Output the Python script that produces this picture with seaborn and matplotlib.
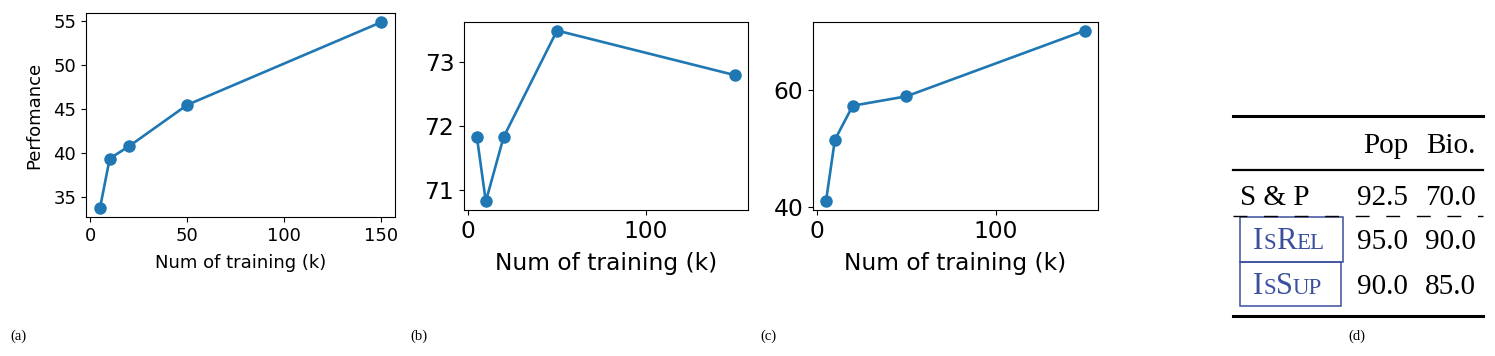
import matplotlib
matplotlib.use("Agg")
import matplotlib.pyplot as plt
import seaborn as sns
import pandas as pd
from matplotlib.lines import Line2D
from matplotlib.patches import Rectangle

# data
num_training = [5, 10, 20, 50, 150]
perf_a = [33.8, 39.4, 40.8, 45.5, 54.9]
perf_b = [71.83, 70.82, 71.83, 73.5, 72.8]
perf_c = [41.0, 51.5, 57.3, 58.9, 70.1]

table_cols = ["Pop", "Bio."]
table_rows = ["S & P", "IsRel", "IsSup"]
pop_scores = [92.5, 95.0, 90.0]
bio_scores = [70.0, 90.0, 85.0]

W, H = 1495, 356
BLUE = "#3a4f9e"


def px(x, y):
    return x / W, 1 - y / H


def add_axes(fig, left, top, right, bottom):
    return fig.add_axes([left / W, 1 - bottom / H, (right - left) / W, (bottom - top) / H])


def plot_panel(ax, values, fs):
    df = pd.DataFrame({"n": num_training, "perf": values})
    sns.lineplot(data=df, x="n", y="perf", marker="o", markersize=9,
                 markeredgewidth=0, linewidth=1.9, color="#1f77b4", ax=ax)
    ax.set_xlabel("Num of training (k)", fontsize=fs, labelpad=6.5)
    ax.set_ylabel("")
    ax.tick_params(labelsize=fs)


def smallcaps(fig, renderer, x, y, parts, big=22, small=16.5):
    # draw "big small big small" pieces one after another on a common baseline
    cur = x
    for i, part in enumerate(parts):
        t = fig.text(*px(cur, y), part, fontsize=big if i % 2 == 0 else small,
                     family="Liberation Serif", color=BLUE, va="baseline", ha="left")
        bb = t.get_window_extent(renderer)
        cur += bb.width


def main():
    fig = plt.figure(figsize=(W / 100, H / 100), dpi=100)

    # (a)
    ax = add_axes(fig, 86, 13, 395, 217)
    plot_panel(ax, perf_a, 13)
    ax.set_ylabel("Perfomance", fontsize=13, labelpad=7)
    ax.set_xticks([0, 50, 100, 150])
    ax.set_yticks([35, 40, 45, 50, 55])

    # (b)
    ax = add_axes(fig, 464, 22, 748, 210)
    plot_panel(ax, perf_b, 16.8)
    ax.set_xticks([0, 100])
    ax.set_yticks([71, 72, 73])

    # (c)
    ax = add_axes(fig, 813, 22, 1098, 210)
    plot_panel(ax, perf_c, 16.8)
    ax.set_xticks([0, 100])
    ax.set_yticks([40, 60])

    # sub captions
    for lab, x in [("(a)", 10), ("(b)", 410), ("(c)", 760), ("(d)", 1357)]:
        fig.text(*px(x, 336), lab, fontsize=10.5, family="Liberation Serif",
                 ha="left" if lab != "(d)" else "center", va="center")

    # (d) table
    fs = 21
    for y, lw in [(116, 2.2), (170, 1.6), (316, 2.2)]:
        fig.add_artist(Line2D([1233 / W, 1483 / W], [1 - y / H] * 2, color="black",
                              linewidth=lw, transform=fig.transFigure))
    fig.add_artist(Line2D([1233 / W, 1483 / W], [1 - 216 / H] * 2, color="black",
                          linewidth=1.0, linestyle=(0, (10, 12)), transform=fig.transFigure))

    col_x = [1408, 1476]
    for cx, name in zip(col_x, table_cols):
        fig.text(*px(cx, 153), name, fontsize=fs, family="Liberation Serif",
                 ha="right", va="baseline")

    row_y = [205, 249, 294]
    renderer = fig.canvas.get_renderer()
    for i, (name, p, b) in enumerate(zip(table_rows, pop_scores, bio_scores)):
        y = row_y[i]
        if name == "S & P":
            fig.text(*px(1240, y), name, fontsize=fs, family="Liberation Serif",
                     ha="left", va="baseline")
        else:
            smallcaps(fig, renderer, 1253, y, [name[0], name[1].upper(), name[2], name[3:].upper()])
        fig.text(*px(col_x[0], y), f"{p:.1f}", fontsize=fs, family="Liberation Serif",
                 ha="right", va="baseline")
        fig.text(*px(col_x[1], y), f"{b:.1f}", fontsize=fs, family="Liberation Serif",
                 ha="right", va="baseline")

    for (x0, y0, x1, y1) in [(1240, 217, 1343, 262), (1240, 262, 1341, 306)]:
        fig.add_artist(Rectangle((x0 / W, 1 - y1 / H), (x1 - x0) / W, (y1 - y0) / H,
                                 fill=False, edgecolor=BLUE, linewidth=1.1,
                                 transform=fig.transFigure))

    fig.savefig("out.png", dpi=100)
    plt.close(fig)


if __name__ == "__main__":
    main()
